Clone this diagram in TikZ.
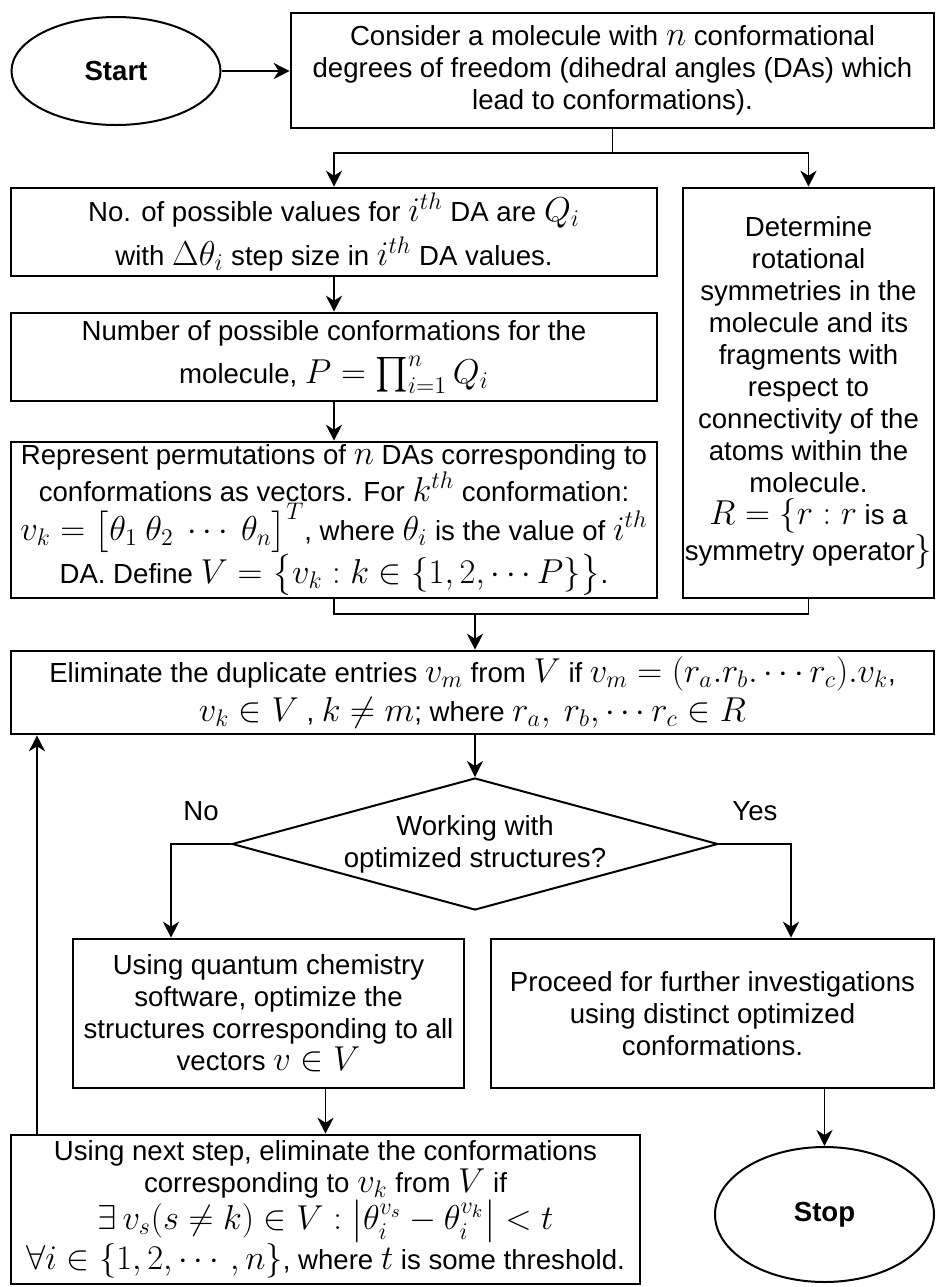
\documentclass[tikz,border=0pt]{standalone}
\usepackage{fontspec}
\setmainfont{Liberation Sans}
\usepackage{amsmath}
\DeclareMathSizes{13.8}{16}{11.5}{9}
\usetikzlibrary{shapes.geometric,arrows.meta}

\begin{document}
\begin{tikzpicture}[x=0.5pt,y=-0.5pt,
  every node/.style={font=\fontsize{13.8}{16}\selectfont, align=center},
  box/.style={draw, line width=1.3pt, inner sep=0pt},
  term/.style={draw, ellipse, line width=1pt, inner sep=0pt, font=\fontsize{13.8}{16}\selectfont\bfseries},
  decision/.style={draw, diamond, line width=1pt, inner sep=0pt, aspect=3.68},
  flow/.style={line width=0.9pt, -{Stealth[length=8pt,width=8pt,inset=2.5pt]}},
  link/.style={line width=0.9pt}]
\useasboundingbox (0,0) rectangle (936,1287);

\node[term, minimum width=104.5pt, minimum height=54pt] (start) at (116,71) {Start};

\node[box, minimum width=321.5pt, minimum height=57.5pt] (consider) at (612.5,70.5)
  {Consider a molecule with $n$ conformational\\
   degrees of freedom (dihedral angles (DAs) which\\
   lead to conformations).};

\node[box, minimum width=323pt, minimum height=44pt] (nvalues) at (334,232)
  {No. of possible values for $i^{th}$ DA are $Q_i$\\[3pt]
   with $\Delta\theta_i$ step size in $i^{th}$ DA values.};

\node[box, minimum width=323pt, minimum height=44pt] (nconf) at (334,357)
  {Number of possible conformations for the\\[4pt]
   molecule, $P=\prod_{i=1}^{n} Q_i$};

\node[box, minimum width=323pt, minimum height=78pt] (represent) at (334,520)
  {Represent permutations of $n$ DAs corresponding to\\
   conformations as vectors. For $k^{th}$ conformation:\\
   $v_k=\big[\theta_1\ \theta_2\ \cdots\ \theta_n\big]^T$, where $\theta_i$ is the value of $i^{th}$\\
   DA. Define $V=\big\{v_k:k\in\{1,2,\cdots P\}\big\}$.};

\node[box, minimum width=125.5pt, minimum height=205pt] (symm) at (808.5,393)
  {Determine\\ rotational\\ symmetries in the\\ molecule and its\\ fragments with\\
   respect to\\ connectivity of the\\ atoms within the\\ molecule.\\
   $R=\{r:r$ is a\\ symmetry operator$\}$};

\node[box, minimum width=461.5pt, minimum height=41.5pt] (elim) at (472.5,692.5)
  {Eliminate the duplicate entries $v_m$ from $V$ if $v_m=(r_a.r_b.\cdots r_c).v_k$,\\[2pt]
   $v_k\in V$ , $k\neq m$; where $r_a,\ r_b,\cdots r_c\in R$};

\node[decision, minimum width=243pt, minimum height=66pt,
  label={[align=center]center:{Working with\\optimized structures?}}] (decide) at (475,844) {};

\node[box, minimum width=195.5pt, minimum height=74.5pt] (optimize) at (268.5,1013.5)
  {Using quantum chemistry\\ software, optimize the\\
   structures corresponding to all\\ vectors $v\in V$};

\node[box, minimum width=221.5pt, minimum height=74.5pt] (proceed) at (712.5,1013.5)
  {Proceed for further investigations\\ using distinct optimized\\ conformations.};

\node[box, minimum width=314.5pt, minimum height=74.5pt] (nextstep) at (325.5,1209.5)
  {Using next step, eliminate the conformations\\
   corresponding to $v_k$ from $V$ if\\
   $\exists\, v_s(s\neq k)\in V:\big|\theta_i^{v_s}-\theta_i^{v_k}\big|<t$\\
   $\forall i\in\{1,2,\cdots,n\}$, where $t$ is some threshold.};

\node[term, minimum width=109.5pt, minimum height=67.5pt] (stop) at (824.5,1214.5) {Stop};

\coordinate (split) at (612.5,152.7);
\coordinate (merge) at (475,614);
\coordinate (nocorner) at (171,844);
\coordinate (yescorner) at (791,844);
\coordinate (loop) at (37,0);

\draw[flow] (start.east) -- (start.east -| consider.west);
\draw[link] (consider.south) -- (split);
\draw[flow] (split) -| (nvalues.north);
\draw[flow] (split) -| (symm.north);
\draw[flow] (nvalues) -- (nconf);
\draw[flow] (nconf) -- (represent);
\draw[link] (represent.south) |- (symm.south |- merge) -- (symm.south);
\draw[flow] (merge) -- (merge |- elim.north);
\draw[flow] (decide.north |- elim.south) -- (decide.north);
\draw[flow] (decide.west) -- node[above=8pt]{No} (nocorner) -- (nocorner |- optimize.north);
\draw[flow] (decide.east) -- node[above=8pt]{Yes} (yescorner) -- (yescorner |- proceed.north);
\draw[flow] (nextstep.north |- optimize.south) -- (nextstep.north);
\draw[flow] (stop.north |- proceed.south) -- (stop.north);
\draw[flow] (loop |- nextstep.north) -- (loop |- elim.south);
\end{tikzpicture}
\end{document}
